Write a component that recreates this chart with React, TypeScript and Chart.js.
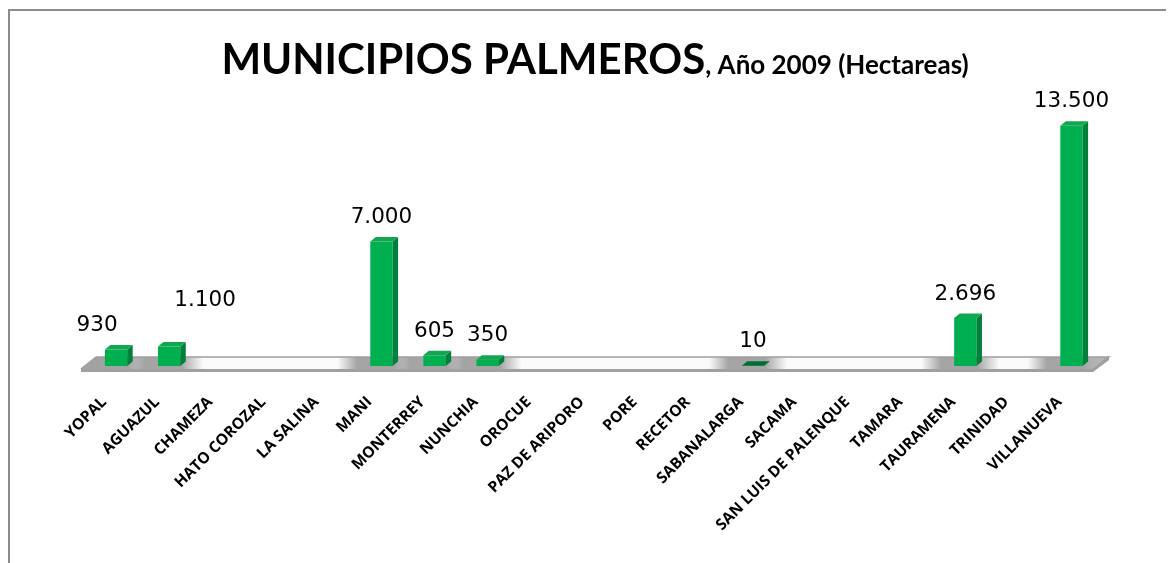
import React, { useEffect, useRef } from "react";
import { Chart, registerables } from "chart.js";

Chart.register(...registerables);

const categories = [
  "YOPAL", "AGUAZUL", "CHAMEZA", "HATO COROZAL", "LA SALINA", "MANI",
  "MONTERREY", "NUNCHIA", "OROCUE", "PAZ DE ARIPORO", "PORE", "RECETOR",
  "SABANALARGA", "SACAMA", "SAN LUIS DE PALENQUE", "TAMARA", "TAURAMENA",
  "TRINIDAD", "VILLANUEVA",
];
const hectareas: (number | null)[] = [
  930, 1100, null, null, null, 7000,
  605, 350, null, null, null, null,
  10, null, null, null, 2696,
  null, 13500,
];
const titleMain = "MUNICIPIOS PALMEROS";
const titleSub = ", Año 2009 (Hectareas)";
const yMin = 0;
const yMax = 15000;

// manual label nudges (as in the original sheet)
const labelNudge: Record<number, [number, number]> = { 0: [-19, 0], 1: [36, -22] };

const fmt = (n: number) => String(n).replace(/\B(?=(\d{3})+(?!\d))/g, ".");

const W = 1166;
const H = 555;

const scenePlugin = {
  id: "scene3d",
  beforeDraw(chart: any) {
    const ctx = chart.ctx;
    ctx.save();
    ctx.fillStyle = "#ffffff";
    ctx.fillRect(0, 0, chart.width, chart.height);
    ctx.fillStyle = "#8c8c8c";
    ctx.fillRect(0, 1, chart.width, 2);
    ctx.fillRect(0, 1, 2, chart.height);
    ctx.restore();
  },
  beforeDatasetsDraw(chart: any) {
    const ctx = chart.ctx;
    const { left: L, right: R } = chart.chartArea;
    const base = chart.scales.y.getPixelForValue(0);
    const fl = [L - 8.5, base + 3];
    const fr = [R - 5, base + 3];
    const br = [R + 11, base - 9];
    const bl = [L + 6.5, base - 9];
    ctx.save();
    ctx.fillStyle = "#a0a0a0";
    ctx.beginPath();
    ctx.moveTo(fl[0], fl[1]);
    ctx.lineTo(fr[0], fr[1]);
    ctx.lineTo(br[0], br[1]);
    ctx.lineTo(br[0], br[1] + 3);
    ctx.lineTo(fr[0], fr[1] + 3);
    ctx.lineTo(fl[0], fl[1] + 3);
    ctx.closePath();
    ctx.fill();
    ctx.beginPath();
    ctx.moveTo(fl[0], fl[1]);
    ctx.lineTo(fr[0], fr[1]);
    ctx.lineTo(br[0], br[1]);
    ctx.lineTo(bl[0], bl[1]);
    ctx.closePath();
    ctx.fillStyle = "#fbfbfb";
    ctx.fill();
    ctx.save();
    ctx.clip();
    const meta = chart.getDatasetMeta(0);
    meta.data.forEach((el: any, i: number) => {
      if (hectareas[i] == null) return;
      const x = el.x;
      const g = ctx.createLinearGradient(x - 44, 0, x + 34, 0);
      g.addColorStop(0, "rgba(160,160,160,0)");
      g.addColorStop(0.25, "rgba(160,160,160,0.95)");
      g.addColorStop(0.72, "rgba(160,160,160,0.95)");
      g.addColorStop(1, "rgba(160,160,160,0)");
      ctx.fillStyle = g;
      ctx.fillRect(x - 44, base - 12, 78, 18);
    });
    const g2 = ctx.createLinearGradient(L - 10, 0, L + 40, 0);
    g2.addColorStop(0, "rgba(160,160,160,0.95)");
    g2.addColorStop(1, "rgba(160,160,160,0)");
    ctx.fillStyle = g2;
    ctx.fillRect(L - 10, base - 12, 50, 18);
    const g3 = ctx.createLinearGradient(R - 30, 0, R + 12, 0);
    g3.addColorStop(0, "rgba(160,160,160,0)");
    g3.addColorStop(1, "rgba(160,160,160,0.95)");
    ctx.fillStyle = g3;
    ctx.fillRect(R - 30, base - 12, 44, 18);
    ctx.restore();
    ctx.strokeStyle = "#9e9e9e";
    ctx.lineWidth = 1.5;
    ctx.beginPath();
    ctx.moveTo(bl[0], bl[1]);
    ctx.lineTo(br[0], br[1]);
    ctx.lineTo(fr[0], fr[1]);
    ctx.moveTo(fl[0], fl[1]);
    ctx.lineTo(bl[0], bl[1]);
    ctx.stroke();
    ctx.restore();
  },
  afterDatasetsDraw(chart: any) {
    const ctx = chart.ctx;
    const meta = chart.getDatasetMeta(0);
    const dx = 5.5;
    const dy = 4.5;
    ctx.save();
    meta.data.forEach((el: any, i: number) => {
      const v = hectareas[i];
      if (v == null) return;
      const x = el.x;
      const y = el.y;
      const b = el.base;
      const w = el.width;
      const xl = x - w / 2;
      const xr = x + w / 2;
      ctx.fillStyle = "#00803a";
      ctx.beginPath();
      ctx.moveTo(xr, y);
      ctx.lineTo(xr + dx, y - dy);
      ctx.lineTo(xr + dx, b - dy);
      ctx.lineTo(xr, b);
      ctx.closePath();
      ctx.fill();
      ctx.fillStyle = v < 50 ? "#006e32" : "#13a650";
      ctx.beginPath();
      ctx.moveTo(xl, y);
      ctx.lineTo(xl + dx, y - dy);
      ctx.lineTo(xr + dx, y - dy);
      ctx.lineTo(xr, y);
      ctx.closePath();
      ctx.fill();
    });
    ctx.fillStyle = "#000000";
    ctx.font = '21.5px "DejaVu Sans"';
    ctx.textAlign = "center";
    ctx.textBaseline = "middle";
    meta.data.forEach((el: any, i: number) => {
      const v = hectareas[i];
      if (v == null) return;
      const n = labelNudge[i] || [0, 0];
      ctx.fillText(fmt(v), el.x + n[0], el.y - 24 + n[1]);
    });
    ctx.restore();
  },
  afterDraw(chart: any) {
    const ctx = chart.ctx;
    ctx.save();
    ctx.fillStyle = "#000000";
    ctx.textBaseline = "alphabetic";
    ctx.textAlign = "left";
    const f1 = 'bold 42px Lato';
    const f2 = 'bold 26px Lato';
    ctx.font = f1;
    const w1 = ctx.measureText(titleMain).width;
    ctx.font = f2;
    const w2 = ctx.measureText(titleSub).width;
    const cx = 587;
    const x0 = cx - (w1 + w2) / 2;
    const by = 66;
    ctx.font = f1;
    ctx.fillText(titleMain, x0, by);
    ctx.font = f2;
    ctx.fillText(titleSub, x0 + w1, by);
    ctx.restore();
  },
};

export default function App() {
  const ref = useRef<HTMLCanvasElement | null>(null);
  useEffect(() => {
    if (!ref.current) return;
    const chart = new Chart(ref.current, {
      type: "bar",
      data: {
        labels: categories,
        datasets: [
          {
            label: "Hectareas",
            data: hectareas,
            backgroundColor: "#00b050",
            borderWidth: 0,
            categoryPercentage: 1,
            barPercentage: 0.42,
          },
        ],
      },
      options: {
        responsive: false,
        animation: false,
        layout: { padding: { left: 81.5, right: 76, top: 91, bottom: 0 } },
        plugins: {
          legend: { display: false },
          title: { display: false },
          tooltip: { enabled: false },
        },
        scales: {
          x: {
            offset: true,
            grid: { display: false, drawTicks: false },
            border: { display: false },
            ticks: {
              autoSkip: false,
              maxRotation: 45,
              minRotation: 45,
              padding: 27,
              labelOffset: -12,
              color: "#000000",
              font: { family: "Open Sans", weight: "bold", size: 15.5 },
            },
            afterFit: (s: any) => {
              s.height = 197;
            },
          },
          y: {
            display: false,
            min: yMin,
            max: yMax,
          },
        },
      },
      plugins: [scenePlugin],
    });
    return () => chart.destroy();
  }, []);
  return <canvas ref={ref} width={W} height={H} style={{ display: "block" }} />;
}
